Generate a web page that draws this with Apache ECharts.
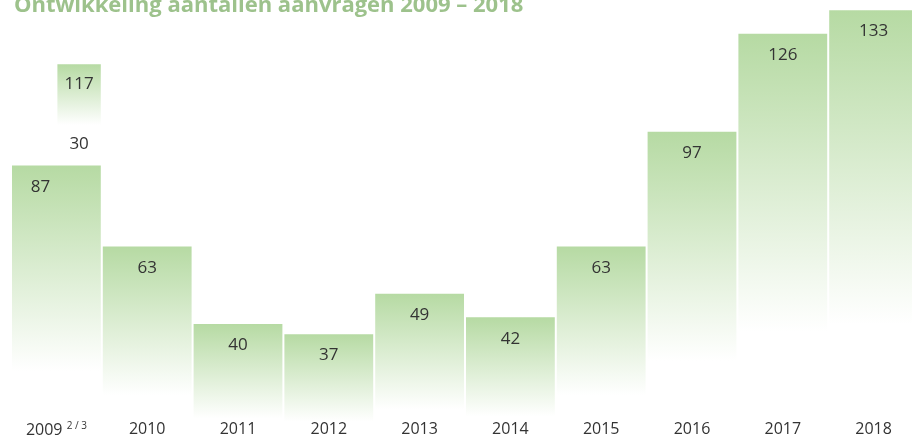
<!DOCTYPE html>
<html>
<head>
<meta charset="utf-8">
<script src="https://cdn.jsdelivr.net/npm/echarts@6/dist/echarts.min.js"></script>
<style>
  html, body { margin: 0; padding: 0; background: #fff; }
  #chart { width: 912px; height: 438px; }
</style>
</head>
<body>
<div id="chart"></div>
<script>
const years = ['2009', '2010', '2011', '2012', '2013', '2014', '2015', '2016', '2017', '2018'];
const requests = [87, 63, 40, 37, 49, 42, 63, 97, 126, 133];
// 2009: extra requests on top of the 87 (total 117)
const extra2009 = 30;

const green = '#b6daa3';
const font = 'Open Sans';

function fade(stop) {
  return new echarts.graphic.LinearGradient(0, 0, 0, 1, [
    { offset: 0, color: green },
    { offset: stop, color: '#ffffff' },
    { offset: 1, color: '#ffffff' }
  ]);
}

const chart = echarts.init(document.getElementById('chart'));

chart.setOption({
  animation: false,
  title: {
    text: 'Ontwikkeling aantallen aanvragen 2009 – 2018',
    left: 9,
    top: -10,
    textStyle: { color: '#9dc28c', fontSize: 22, fontWeight: 'bold', fontFamily: font }
  },
  grid: [
    // the zero line sits below the visible area, the bars fade out before it
    { left: 11, right: -7, top: 0, bottom: -21, outerBoundsMode: 'none' },
    // thin strip only used for the year labels
    { left: 11, right: -7, top: 414, height: 1, outerBoundsMode: 'none' }
  ],
  xAxis: [
    { type: 'category', data: years, gridIndex: 0, show: false },
    {
      type: 'category',
      data: years,
      gridIndex: 1,
      z: 10,
      axisLine: { show: false },
      axisTick: { show: false },
      axisLabel: {
        interval: 0,
        margin: 6,
        color: '#333',
        fontSize: 16,
        fontFamily: font,
        formatter: function (v, i) { return i === 0 ? v + ' {sup|2 / 3}' : v; },
        rich: { sup: { fontSize: 10, verticalAlign: 'top', padding: [0, 0, 8, 0], color: '#333', fontFamily: font } }
      }
    }
  ],
  yAxis: [
    { type: 'value', min: 0, max: 136, show: false, gridIndex: 0 },
    { type: 'value', show: false, gridIndex: 1 }
  ],
  series: [
    {
      type: 'bar',
      barCategoryGap: 2,
      data: requests.map(function (v, i) {
        const item = { value: v };
        if (i === 0) item.label = { offset: [-16, 0] };
        return item;
      }),
      itemStyle: { color: fade(0.7) },
      label: {
        show: true,
        position: 'insideTop',
        distance: 13,
        color: '#333',
        fontSize: 17,
        fontFamily: font
      }
    },
    {
      type: 'custom',
      data: [[0, requests[0], requests[0] + extra2009]],
      renderItem: function (params, api) {
        const base = api.coord([api.value(0), api.value(1)]);
        const top = api.coord([api.value(0), api.value(2)]);
        const band = api.size([1, 0])[0];
        const x0 = base[0] + 1;
        const x1 = base[0] + band / 2 - 1;
        const cx = (x0 + x1) / 2;
        const txt = '17px "' + font + '"';
        return {
          type: 'group',
          children: [
            {
              type: 'rect',
              shape: { x: x0, y: top[1], width: x1 - x0, height: base[1] - top[1] },
              style: { fill: fade(0.6) }
            },
            {
              type: 'text',
              x: cx, y: top[1] + 20,
              style: { text: String(api.value(2)), fill: '#333', font: txt, align: 'center', verticalAlign: 'middle' }
            },
            {
              type: 'text',
              x: cx, y: base[1] - 21,
              style: { text: String(api.value(2) - api.value(1)), fill: '#333', font: txt, align: 'center', verticalAlign: 'middle' }
            }
          ]
        };
      }
    }
  ]
});
</script>
</body>
</html>
